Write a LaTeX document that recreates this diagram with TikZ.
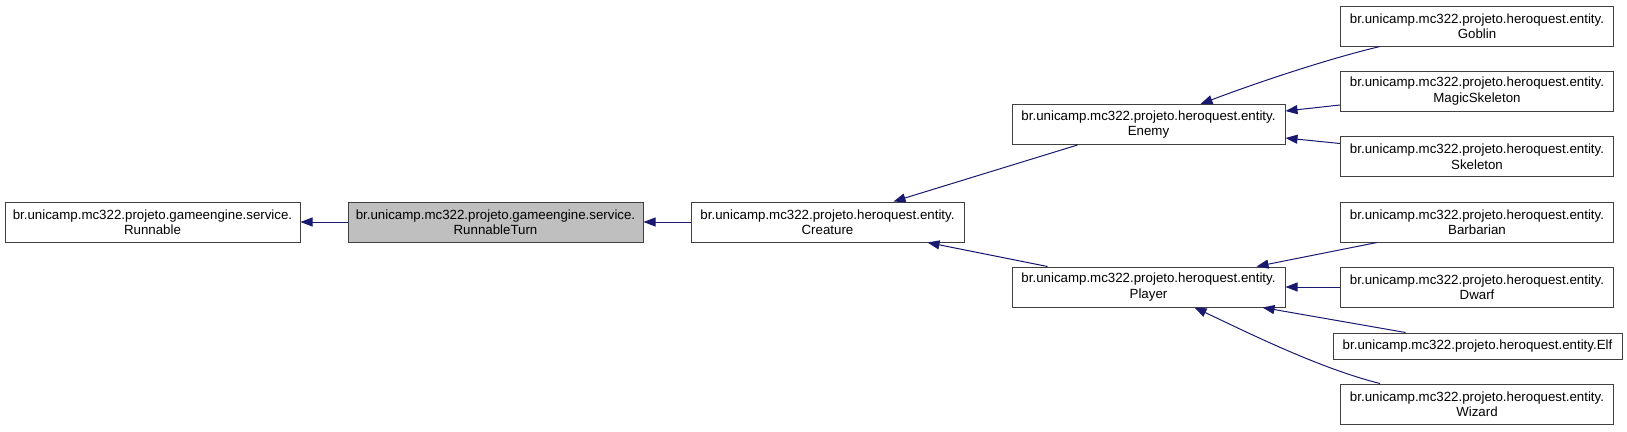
\documentclass[tikz,border=0pt]{standalone}
\usepackage{fontspec}
\setmainfont{Liberation Sans}
\usetikzlibrary{arrows.meta,calc}
\definecolor{edgeblue}{HTML}{191970}
\definecolor{boxline}{HTML}{404040}
\definecolor{grayfill}{HTML}{BFBFBF}
\tikzset{
  cls/.style={draw=boxline, line width=1pt, fill=white, inner sep=0pt, align=center,
    minimum height=40pt, font=\fontsize{13.3}{15.5}\selectfont},
  wA/.style={minimum width=295pt},
  wB/.style={minimum width=273pt},
  cur/.style={fill=grayfill},
  edge/.style={draw=edgeblue, line width=1pt,
    -{Triangle[length=12pt,width=9pt,fill=edgeblue]}},
}
\begin{document}
\begin{tikzpicture}[x=1pt,y=-1pt]
\useasboundingbox (0,0) rectangle (1627,431);
\node[cls,wA] (runnable) at (152.5,222) {br.unicamp.mc322.projeto.gameengine.service.\\Runnable};
\node[cls,wA,cur] (turn) at (495.5,222) {br.unicamp.mc322.projeto.gameengine.service.\\RunnableTurn};
\node[cls,wB] (creature) at (827.5,222) {br.unicamp.mc322.projeto.heroquest.entity.\\Creature};
\node[cls,wB] (enemy) at (1148.5,124.5) {br.unicamp.mc322.projeto.heroquest.entity.\\Enemy};
\node[cls,wB] (player) at (1148.5,287) {br.unicamp.mc322.projeto.heroquest.entity.\\Player};
\node[cls,wB] (goblin) at (1477,26) {br.unicamp.mc322.projeto.heroquest.entity.\\Goblin};
\node[cls,wB] (magic) at (1477,91) {br.unicamp.mc322.projeto.heroquest.entity.\\MagicSkeleton};
\node[cls,wB] (skeleton) at (1477,156.5) {br.unicamp.mc322.projeto.heroquest.entity.\\Skeleton};
\node[cls,wB] (barbarian) at (1477,222) {br.unicamp.mc322.projeto.heroquest.entity.\\Barbarian};
\node[cls,wB] (dwarf) at (1477,287) {br.unicamp.mc322.projeto.heroquest.entity.\\Dwarf};
\node[cls,minimum width=289pt,minimum height=26pt] (elf) at (1477.5,346) {br.unicamp.mc322.projeto.heroquest.entity.Elf};
\node[cls,wB] (wizard) at (1477,404) {br.unicamp.mc322.projeto.heroquest.entity.\\Wizard};

\draw[edge] (turn.west) -- (runnable.east);
\draw[edge] (creature.west) -- (turn.east);
\draw[edge] ($(enemy.south west)+(66,0)$) -- ($(creature.north east)+(-71,0)$);
\draw[edge] ($(player.north west)+(36,0)$) -- ($(creature.south east)+(-37,0)$);
\draw[edge] ($(goblin.south west)+(40,0)$) .. controls +(-55,13) and +(50,-19) .. ($(enemy.north east)+(-85,0)$);
\draw[edge] ($(magic.west)+(0,14)$) -- ($(enemy.east)+(0,-13.5)$);
\draw[edge] ($(skeleton.west)+(0,-13)$) -- ($(enemy.east)+(0,13.5)$);
\draw[edge] ($(barbarian.south west)+(37,0)$) -- ($(player.north east)+(-29,0)$);
\draw[edge] (dwarf.west) -- (player.east);
\draw[edge] ($(elf.north west)+(73,0)$) -- ($(player.south east)+(-23,0)$);
\draw[edge] ($(wizard.north west)+(40,0)$) .. controls +(-60,-15) and +(55,26) .. ($(player.south west)+(183,0)$);
\end{tikzpicture}
\end{document}
